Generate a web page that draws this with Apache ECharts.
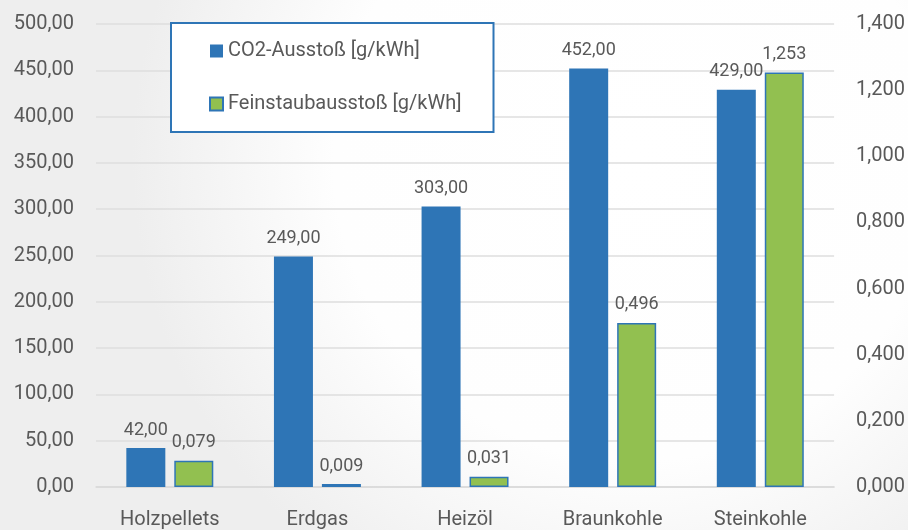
<!DOCTYPE html>
<html>
<head>
<meta charset="utf-8">
<script src="https://cdn.jsdelivr.net/npm/echarts@6/dist/echarts.min.js"></script>
<style>
	html, body { margin: 0; padding: 0; }
	#chart { width: 908px; height: 530px; }
</style>
</head>
<body>
<div id="chart"></div>
<script>
var categories = ['Holzpellets', 'Erdgas', 'Heizöl', 'Braunkohle', 'Steinkohle'];
var co2Values = [42, 249, 303, 452, 429];
var dustValues = [0.079, 0.009, 0.031, 0.496, 1.253];
var seriesNames = ['CO2-Ausstoß [g/kWh]', 'Feinstaubausstoß [g/kWh]'];

var textColor = '#595959';
var blue = '#2e75b6';
var green = '#92c050';

function fmt(v, d) {
	return v.toFixed(d).replace('.', ',');
}

var chart = echarts.init(document.getElementById('chart'));
var option = {
	backgroundColor: {
		type: 'radial', x: 0.7, y: 0.3, r: 0.95,
		colorStops: [
			{ offset: 0, color: '#ffffff' },
			{ offset: 0.6, color: '#fefefe' },
			{ offset: 1, color: '#eeeeee' }
		]
	},
	textStyle: { fontFamily: 'Roboto' },
	legend: {
		orient: 'vertical',
		left: 171,
		top: 23,
		padding: [18, 32, 18, 38],
		itemGap: 33,
		itemWidth: 13,
		itemHeight: 13,
		itemTextGap: 7,
		icon: 'rect',
		borderColor: blue,
		borderWidth: 2,
		backgroundColor: '#ffffff',
		textStyle: { color: textColor, fontSize: 20 },
		data: seriesNames
	},
	grid: { left: 96, right: 73, top: 24, bottom: 43 },
	xAxis: {
		type: 'category',
		data: categories,
		axisTick: { show: false },
		axisLine: { lineStyle: { color: '#d9d9d9', width: 1.5 } },
		axisLabel: { color: textColor, fontSize: 20, margin: 23 }
	},
	yAxis: [{
		type: 'value',
		min: 0, max: 500, interval: 50,
		axisLabel: {
			color: textColor, fontSize: 20, margin: 22,
			formatter: function (v) { return fmt(v, 2); }
		},
		splitLine: { lineStyle: { color: '#dedede', width: 1.5 } }
	}, {
		type: 'value',
		min: 0, max: 1.4, interval: 0.2,
		axisLabel: {
			color: textColor, fontSize: 20, margin: 22,
			formatter: function (v) { return fmt(v, 3); }
		},
		splitLine: { show: false }
	}],
	series: [{
		name: seriesNames[0],
		type: 'bar',
		yAxisIndex: 0,
		barWidth: 39,
		barGap: '23%',
		itemStyle: { color: blue },
		label: {
			show: true, position: 'top', distance: 9,
			color: textColor, fontSize: 18,
			formatter: function (p) { return fmt(p.value, 2); }
		},
		data: co2Values
	}, {
		name: seriesNames[1],
		type: 'bar',
		yAxisIndex: 1,
		barWidth: 39,
		itemStyle: { color: green, borderColor: blue, borderWidth: 1.5 },
		label: {
			show: true, position: 'top', distance: 9,
			color: textColor, fontSize: 18,
			formatter: function (p) { return fmt(p.value, 3); }
		},
		data: dustValues
	}]
};
chart.setOption(option);
</script>
</body>
</html>
